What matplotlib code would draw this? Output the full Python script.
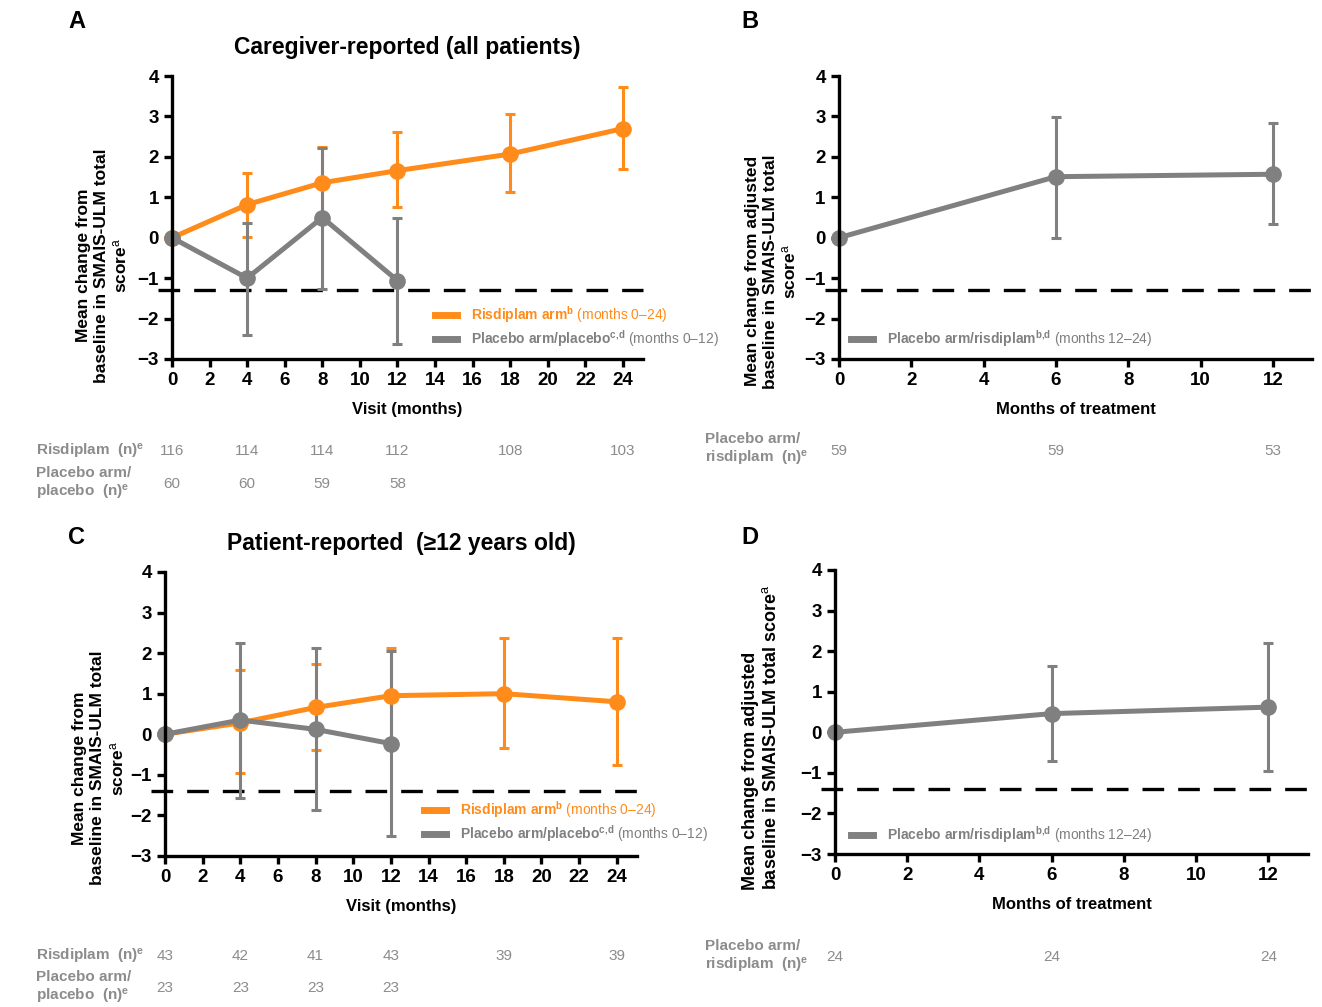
import matplotlib
matplotlib.use('Agg')
import matplotlib.pyplot as plt
from matplotlib.lines import Line2D

plt.rcParams['font.family'] = ['Liberation Sans', 'DejaVu Sans']
plt.rcParams['mathtext.fontset'] = 'custom'
plt.rcParams['mathtext.rm'] = 'Liberation Sans'
plt.rcParams['mathtext.bf'] = 'Liberation Sans:bold'
plt.rcParams['mathtext.it'] = 'Liberation Sans:italic'

orange = '#FF8C1A'
grey = '#808080'
txt_grey = '#8C8C8C'

# x positions
visits = [0, 4, 8, 12, 18, 24]
visits_pbo = [0, 4, 8, 12]
months_trt = [0, 6, 12]

# A: caregiver-reported, all patients
a_ris = [0, 0.82, 1.36, 1.66, 2.07, 2.70]
a_ris_lo = [0, 0.01, 0.47, 0.75, 1.14, 1.70]
a_ris_hi = [0, 1.59, 2.25, 2.62, 3.06, 3.74]
a_pbo = [0, -1.00, 0.50, -1.06]
a_pbo_lo = [0, -2.40, -1.27, -2.62]
a_pbo_hi = [0, 0.37, 2.23, 0.50]
a_n_ris = [116, 114, 114, 112, 108, 103]
a_n_pbo = [60, 60, 59, 58]
a_mcid = -1.3

# B: placebo arm switched to risdiplam (caregiver)
b_pr = [0, 1.51, 1.57]
b_pr_lo = [0, 0.00, 0.35]
b_pr_hi = [0, 2.99, 2.84]
b_n = [59, 59, 53]
b_mcid = -1.3

# C: patient-reported, >=12 years
c_ris = [0, 0.28, 0.66, 0.95, 1.00, 0.80]
c_ris_lo = [0, -0.95, -0.39, -0.23, -0.35, -0.76]
c_ris_hi = [0, 1.58, 1.74, 2.12, 2.37, 2.38]
c_pbo = [0, 0.35, 0.12, -0.23]
c_pbo_lo = [0, -1.56, -1.87, -2.51]
c_pbo_hi = [0, 2.26, 2.12, 2.05]
c_n_ris = [43, 42, 41, 43, 39, 39]
c_n_pbo = [23, 23, 23, 23]
c_mcid = -1.4

# D: placebo arm switched to risdiplam (patient)
d_pr = [0, 0.46, 0.62]
d_pr_lo = [0, -0.71, -0.95]
d_pr_hi = [0, 1.63, 2.20]
d_n = [24, 24, 24]
d_mcid = -1.4

lab_ris = r'$\mathbf{Risdiplam\ arm}^{\mathbf{b}}$ (months 0–24)'
lab_pbo = r'$\mathbf{Placebo\ arm/placebo}^{\mathbf{c{,}d}}$ (months 0–12)'
lab_pr = r'$\mathbf{Placebo\ arm/risdiplam}^{\mathbf{b{,}d}}$ (months 12–24)'

fig = plt.figure(figsize=(13.22, 10.07), dpi=100)
axA = fig.add_axes([0.1301, 0.6435, 0.3563, 0.2810])
axB = fig.add_axes([0.6346, 0.6435, 0.3578, 0.2810])
axC = fig.add_axes([0.1248, 0.1500, 0.3570, 0.2820])
axD = fig.add_axes([0.6316, 0.1519, 0.3578, 0.2821])


def series(ax, x, y, lo, hi, color):
    err = [[m - l for m, l in zip(y, lo)], [h - m for m, h in zip(y, hi)]]
    c = ax.errorbar(x, y, yerr=err, color=color, lw=3.6, marker='o', ms=11,
                    elinewidth=2.2, capsize=3.3, capthick=2.2)
    for art in c.get_children():
        art.set_clip_on(False)


def style(ax, xmax, xticks, xlabel, mcid):
    ax.set_xlim(0, xmax)
    ax.set_ylim(-3, 4)
    ax.set_xticks(xticks)
    ax.set_yticks(range(-3, 5))
    for s in ['top', 'right']:
        ax.spines[s].set_visible(False)
    for s in ['left', 'bottom']:
        ax.spines[s].set_linewidth(2.4)
    ax.tick_params(direction='out', length=5.5, width=2.4, labelsize=13.5, pad=4)
    for t in ax.get_xticklabels() + ax.get_yticklabels():
        t.set_fontweight('bold')
    ax.set_xlabel(xlabel, fontsize=12, fontweight='bold', labelpad=9)
    ax.axhline(mcid, xmin=-0.03, xmax=1, color='black', lw=2.4,
               linestyle=(0, (6.5, 4.2)), clip_on=False, zorder=1)


def legend(ax, handles, labels, x, y):
    ax.legend(handles, labels, loc='center left', bbox_to_anchor=(x, y),
              frameon=False, fontsize=10, handlelength=1.6, handletextpad=1.0,
              labelspacing=0.22, borderpad=0, borderaxespad=0,
              labelcolor='linecolor')


def counts(ax, x, n, y):
    for xi, ni in zip(x, n):
        ax.text(xi, y, str(ni), transform=ax.get_xaxis_transform(), ha='center',
                va='center', fontsize=11, color=txt_grey)


h_ris = Line2D([], [], color=orange, lw=5)
h_pbo = Line2D([], [], color=grey, lw=5)

# panel A
series(axA, visits, a_ris, a_ris_lo, a_ris_hi, orange)
series(axA, visits_pbo, a_pbo, a_pbo_lo, a_pbo_hi, grey)
style(axA, 25.07, range(0, 25, 2), 'Visit (months)', a_mcid)
axA.set_ylabel('Mean change from\nbaseline in SMAIS-ULM total\nscore$^{\\mathrm{a}}$',
               fontsize=12.5, fontweight='bold', multialignment='center')
axA.yaxis.set_label_coords(-0.09, 0.33)
legend(axA, [h_ris, h_pbo], [lab_ris, lab_pbo], 0.558, 0.113)
axA.set_title('Caregiver-reported (all patients)', fontsize=16.5, fontweight='bold', pad=16)
counts(axA, visits, a_n_ris, -0.325)
counts(axA, visits_pbo, a_n_pbo, -0.442)

# panel B
series(axB, months_trt, b_pr, b_pr_lo, b_pr_hi, grey)
style(axB, 13.08, range(0, 13, 2), 'Months of treatment', b_mcid)
axB.set_ylabel('Mean change from adjusted\nbaseline in SMAIS-ULM total\nscore$^{\\mathrm{a}}$',
               fontsize=12.5, fontweight='bold', multialignment='center')
axB.yaxis.set_label_coords(-0.085, 0.31)
legend(axB, [h_pbo], [lab_pr], 0.025, 0.071)
counts(axB, months_trt, b_n, -0.325)

# panel C
series(axC, visits, c_ris, c_ris_lo, c_ris_hi, orange)
series(axC, visits_pbo, c_pbo, c_pbo_lo, c_pbo_hi, grey)
style(axC, 25.07, range(0, 25, 2), 'Visit (months)', c_mcid)
axC.set_ylabel('Mean change from\nbaseline in SMAIS-ULM total\nscore$^{\\mathrm{a}}$',
               fontsize=12.5, fontweight='bold', multialignment='center')
axC.yaxis.set_label_coords(-0.083, 0.31)
legend(axC, [h_ris, h_pbo], [lab_ris, lab_pbo], 0.549, 0.12)
axC.set_title('Patient-reported  (≥12 years old)', fontsize=16.5, fontweight='bold', pad=16)
counts(axC, visits, c_n_ris, -0.352)
counts(axC, visits_pbo, c_n_pbo, -0.465)

# panel D
series(axD, months_trt, d_pr, d_pr_lo, d_pr_hi, grey)
style(axD, 13.1, range(0, 13, 2), 'Months of treatment', d_mcid)
axD.set_ylabel('Mean change from adjusted\nbaseline in SMAIS-ULM total score$^{\\mathrm{a}}$',
               fontsize=13, fontweight='bold', multialignment='left')
axD.yaxis.set_label_coords(-0.116, 0.41)
legend(axD, [h_pbo], [lab_pr], 0.034, 0.067)
counts(axD, months_trt, d_n, -0.362)

# row labels of the n tables
row_kw = dict(fontsize=11, fontweight='bold', color=txt_grey, va='center', ha='left')
fig.text(36 / 1322, 1 - 451 / 1007, r'Risdiplam  (n)$^{\mathbf{e}}$', **row_kw)
fig.text(36 / 1322, 1 - 484 / 1007, 'Placebo arm/\nplacebo  (n)$^{\\mathbf{e}}$', **row_kw)
fig.text(705 / 1322, 1 - 450 / 1007, 'Placebo arm/\nrisdiplam  (n)$^{\\mathbf{e}}$', **row_kw)
fig.text(36 / 1322, 1 - 956 / 1007, r'Risdiplam  (n)$^{\mathbf{e}}$', **row_kw)
fig.text(36 / 1322, 1 - 988 / 1007, 'Placebo arm/\nplacebo  (n)$^{\\mathbf{e}}$', **row_kw)
fig.text(705 / 1322, 1 - 957 / 1007, 'Placebo arm/\nrisdiplam  (n)$^{\\mathbf{e}}$', **row_kw)

# panel letters
for lbl, x, y in [('A', 68, 22), ('B', 741, 22), ('C', 68, 537), ('D', 741, 537)]:
    fig.text(x / 1322, 1 - y / 1007, lbl, fontsize=17, fontweight='bold', va='center')

fig.savefig('out.png', dpi=100)
